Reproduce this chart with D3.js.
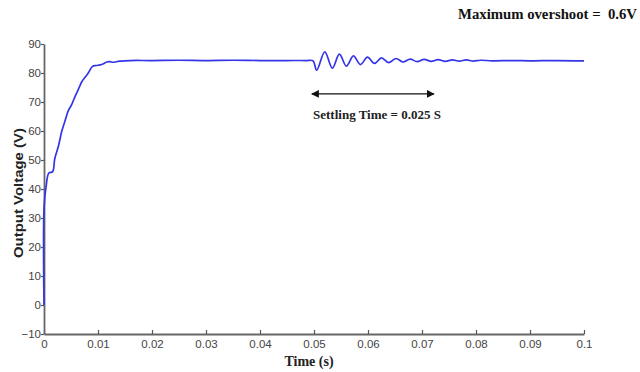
<!DOCTYPE html>
<html>
<head>
<meta charset="utf-8">
<script src="https://cdn.jsdelivr.net/npm/d3@7"></script>
<style>
  body { margin: 0; background: #fff; }
  svg { display: block; }
</style>
</head>
<body>
<div id="chartHolder"></div>
<script>
// output voltage trace (time in s, voltage in V)
const timeS = [0, 0.00002, 0.0004, 0.0009, 0.0016, 0.002, 0.0027, 0.0033, 0.0039, 0.0045, 0.0051, 0.0057,
  0.0064, 0.007, 0.0076, 0.0082, 0.009, 0.0097, 0.0104, 0.011, 0.0116, 0.0122, 0.0128, 0.014, 0.016,
  0.02, 0.025, 0.03, 0.035, 0.04, 0.045, 0.0485, 0.0498,
  0.0505, 0.0520, 0.0534, 0.0547, 0.0560, 0.0573, 0.0586, 0.0599, 0.0612, 0.0625, 0.0638, 0.0652,
  0.0665, 0.0678, 0.0691, 0.0704, 0.0717, 0.0730, 0.0743, 0.0756, 0.0769, 0.0782, 0.0795, 0.0808,
  0.083, 0.087, 0.09, 0.095, 0.1];
const voltV = [0, 34, 41, 45.5, 46, 50.5, 55, 60, 63.5, 67, 69, 71.7,
  74.5, 77, 78.5, 80, 82.3, 82.6, 82.8, 83.2, 83.8, 83.9, 83.7, 84.1, 84.3,
  84.3, 84.4, 84.3, 84.4, 84.3, 84.3, 84.3, 84.2,
  81.0, 87.3, 81.7, 86.5, 82.4, 85.9, 82.9, 85.5, 83.3, 85.2, 83.6, 85.0,
  83.8, 84.8, 83.9, 84.7, 84.0, 84.6, 84.0, 84.5, 84.1, 84.5, 84.1, 84.4,
  84.2, 84.3, 84.2, 84.3, 84.2];
const xTicks = [0, 0.01, 0.02, 0.03, 0.04, 0.05, 0.06, 0.07, 0.08, 0.09, 0.1];
const yTicks = [-10, 0, 10, 20, 30, 40, 50, 60, 70, 80, 90];
const settleFrom = 0.0496, settleTo = 0.0722, settleLevel = 72.8;

const margin = {top: 44, right: 56, bottom: 38, left: 44};
const width = 640 - margin.left - margin.right;
const height = 372 - margin.top - margin.bottom;

const svg = d3.select('div#chartHolder').append('svg')
  .attr('width', 640)
  .attr('height', 372);

const defs = svg.append('defs');
defs.append('marker')
  .attr('id', 'head')
  .attr('viewBox', '0 0 10 10')
  .attr('refX', 9).attr('refY', 5)
  .attr('markerWidth', 6).attr('markerHeight', 6)
  .attr('orient', 'auto-start-reverse')
  .append('path').attr('d', 'M0,0 L10,5 L0,10 z').attr('fill', '#111');

const g = svg.append('g').attr('transform', 'translate(' + margin.left + ',' + margin.top + ')');

const x = d3.scaleLinear().domain([0, 0.1]).range([0, width]);
const y = d3.scaleLinear().domain([-10, 90]).range([height, 0]);

// axes, matlab-ish: ticks in for x, short outward for y
const xAxis = g.append('g').attr('transform', 'translate(0,' + height + ')')
  .call(d3.axisBottom(x).tickValues(xTicks).tickSizeInner(-4).tickSizeOuter(0)
    .tickFormat(d => d === 0 ? '0' : d3.format('~g')(d)));
const yAxis = g.append('g')
  .call(d3.axisLeft(y).tickValues(yTicks).tickSizeInner(3).tickSizeOuter(0).tickFormat(d3.format('d')));

[xAxis, yAxis].forEach(a => {
  a.select('.domain').attr('stroke', '#666').attr('stroke-width', 1.8);
  a.selectAll('.tick line').attr('stroke', '#555').attr('stroke-width', 1.2);
  a.selectAll('.tick text')
    .attr('fill', '#444')
    .style('font-family', 'Liberation Sans Narrow, Arial, sans-serif')
    .style('font-size', '11.5px');
});
xAxis.selectAll('.tick text').attr('dy', '0.95em').attr('y', 3);
yAxis.selectAll('.tick text').attr('x', -3);

// trace
const line = d3.line()
  .x((d, i) => x(timeS[i]))
  .y(d => y(d))
  .curve(d3.curveCatmullRom.alpha(0.5));

g.append('path')
  .datum(voltV)
  .attr('fill', 'none')
  .attr('stroke', '#3535e8')
  .attr('stroke-width', 1.7)
  .attr('d', line);

// settling time arrow
g.append('line')
  .attr('x1', x(settleFrom)).attr('x2', x(settleTo))
  .attr('y1', y(settleLevel)).attr('y2', y(settleLevel))
  .attr('stroke', '#111').attr('stroke-width', 1.3)
  .attr('marker-start', 'url(#head)').attr('marker-end', 'url(#head)');

const serif = 'Liberation Serif, Times New Roman, serif';

svg.append('text')
  .attr('x', 313).attr('y', 119)
  .attr('textLength', 128).attr('lengthAdjust', 'spacingAndGlyphs')
  .style('font-family', serif).style('font-weight', 'bold').style('font-size', '13px')
  .attr('fill', '#222')
  .text('Settling Time = 0.025 S');

svg.append('text')
  .attr('x', 458).attr('y', 19)
  .attr('textLength', 179).attr('lengthAdjust', 'spacingAndGlyphs')
  .style('font-family', serif).style('font-weight', 'bold').style('font-size', '15px')
  .attr('fill', '#111')
  .attr('xml:space', 'preserve')
  .text('Maximum overshoot =  0.6V');

svg.append('text')
  .attr('x', 309).attr('y', 366)
  .attr('text-anchor', 'middle')
  .style('font-family', serif).style('font-weight', 'bold').style('font-size', '14px')
  .attr('fill', '#222')
  .text('Time (s)');

svg.append('text')
  .attr('transform', 'translate(23,193) rotate(-90)')
  .attr('text-anchor', 'middle')
  .attr('textLength', 130).attr('lengthAdjust', 'spacingAndGlyphs')
  .style('font-family', 'Liberation Sans, Arial, sans-serif').style('font-weight', 'bold').style('font-size', '13px')
  .attr('fill', '#222')
  .text('Output Voltage (V)');
</script>
</body>
</html>
